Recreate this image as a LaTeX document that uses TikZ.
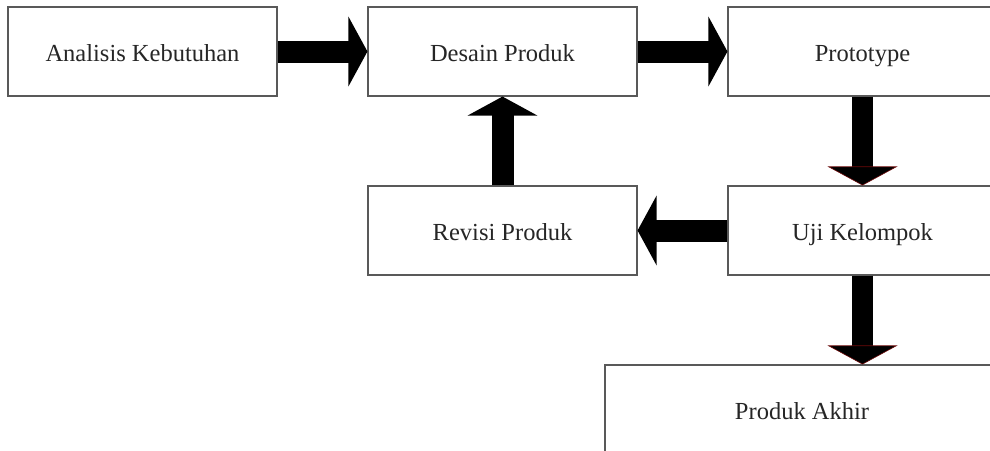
\documentclass[tikz,border=0pt]{standalone}
\usepackage{fontspec}
\setmainfont{Liberation Serif}
\usetikzlibrary{arrows.meta}
\definecolor{arrowred}{RGB}{110,10,10}

\begin{document}
\begin{tikzpicture}[x=1pt,y=-1pt,
    stage/.style={draw=black!65, line width=1.1pt, fill=white, minimum width=269pt, minimum height=89pt, inner sep=0pt,
        text height=24pt, text depth=5pt, text=black!85, font=\fontsize{24.5}{29}\selectfont},
    hblock/.style={line width=22pt, -{Triangle[length=19pt,width=69pt]}},
    vblock/.style={line width=21pt, -{Triangle[length=19pt,width=70pt,color=arrowred,fill=black,line width=0.6pt]}}]

\useasboundingbox (0,0) rectangle (990,450);
\clip (0,0) rectangle (990,450);
\node [stage] (analisis) at (142.5,51.5){Analisis Kebutuhan};
\node [stage] (desain) at (502.5,51.5){Desain Produk};
\node [stage] (proto) at (862.5,51.5){Prototype};
\node [stage] (revisi) at (502.5,230.5){Revisi Produk};
\node [stage] (uji) at (862.5,230.5){Uji Kelompok};
\node [stage, minimum width=394pt, minimum height=90pt] (akhir) at (802,410){Produk Akhir};
\draw[hblock] (analisis) -- (desain);
\draw[hblock] (desain) -- (proto);
\draw[vblock] (proto) -- (uji);
\draw[hblock] (uji) -- (revisi);
\draw[hblock] (revisi) -- (desain);
\draw[vblock] (uji.south) -- (uji.south |- akhir.north);
\end{tikzpicture}
\end{document}
